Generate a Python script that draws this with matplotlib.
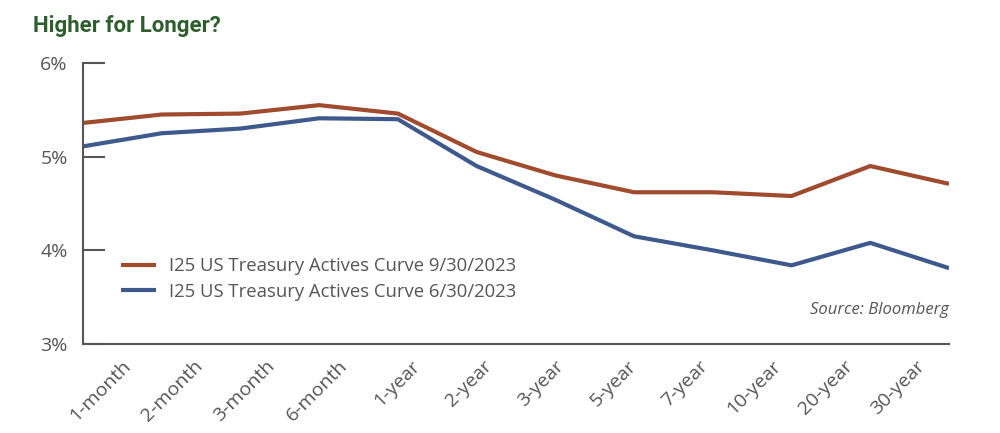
import matplotlib
matplotlib.use('Agg')
import matplotlib.pyplot as plt

# Treasury curve data
maturities = ['1-month', '2-month', '3-month', '6-month', '1-year', '2-year',
              '3-year', '5-year', '7-year', '10-year', '20-year', '30-year']
curve_sep = [5.36, 5.45, 5.46, 5.55, 5.46, 5.05, 4.80, 4.62, 4.62, 4.58, 4.90, 4.71]
curve_jun = [5.11, 5.25, 5.30, 5.41, 5.40, 4.90, 4.54, 4.15, 4.00, 3.84, 4.08, 3.81]
yticks = [3, 4, 5, 6]

label_sep = 'I25 US Treasury Actives Curve 9/30/2023'
label_jun = 'I25 US Treasury Actives Curve 6/30/2023'

orange = '#A04A2E'
blue = '#3E5A8C'
gray = '#555555'

plt.rcParams['font.family'] = ['Open Sans', 'DejaVu Sans']

fig = plt.figure(figsize=(10, 4.33), dpi=100)
ax = fig.add_axes([0.083, 0.2055, 0.866, 0.649])

x = list(range(len(maturities)))
ax.plot(x, curve_sep, color=orange, lw=3, label=label_sep, solid_capstyle='butt')
ax.plot(x, curve_jun, color=blue, lw=3, label=label_jun, solid_capstyle='butt')

ax.set_xlim(0, len(maturities) - 1)
ax.set_ylim(3, 6)
ax.set_yticks(yticks)
ax.set_yticklabels([f'{v}%' for v in yticks])
ax.tick_params(axis='y', direction='in', length=16, width=1.5, color=gray,
               pad=11, labelsize=14, labelcolor=gray)
ax.set_xticks([])

for side in ['top', 'right']:
    ax.spines[side].set_visible(False)
for side in ['left', 'bottom']:
    ax.spines[side].set_color(gray)
    ax.spines[side].set_linewidth(1.5)

# tick labels sit on their own evenly spaced scale
def fwd(v):
    return (v - 0.49) / 0.917

def inv(v):
    return v * 0.917 + 0.49

sec = ax.secondary_xaxis('bottom', functions=(fwd, inv))
sec.set_xticks(x)
sec.set_xticklabels(maturities, rotation=45, ha='right', rotation_mode='anchor')
sec.tick_params(length=0, pad=9, labelsize=14, labelcolor=gray)
sec.spines['bottom'].set_visible(False)

leg = ax.legend(loc='upper left', bbox_to_anchor=(0.035, 0.335), frameon=False,
                fontsize=13.3, handlelength=1.9, handletextpad=0.7, labelspacing=0.4,
                borderaxespad=0)
for t in leg.get_texts():
    t.set_color(gray)

ax.text(1.0, 0.12, 'Source: Bloomberg', transform=ax.transAxes, ha='right',
        va='center', fontsize=12, style='italic', color=gray)

fig.text(0.033, 0.94, 'Higher for Longer?', fontsize=16, fontweight='bold',
         color='#2E5E2E', va='center', family=['Roboto', 'DejaVu Sans'])

fig.savefig('out.png', dpi=100)
